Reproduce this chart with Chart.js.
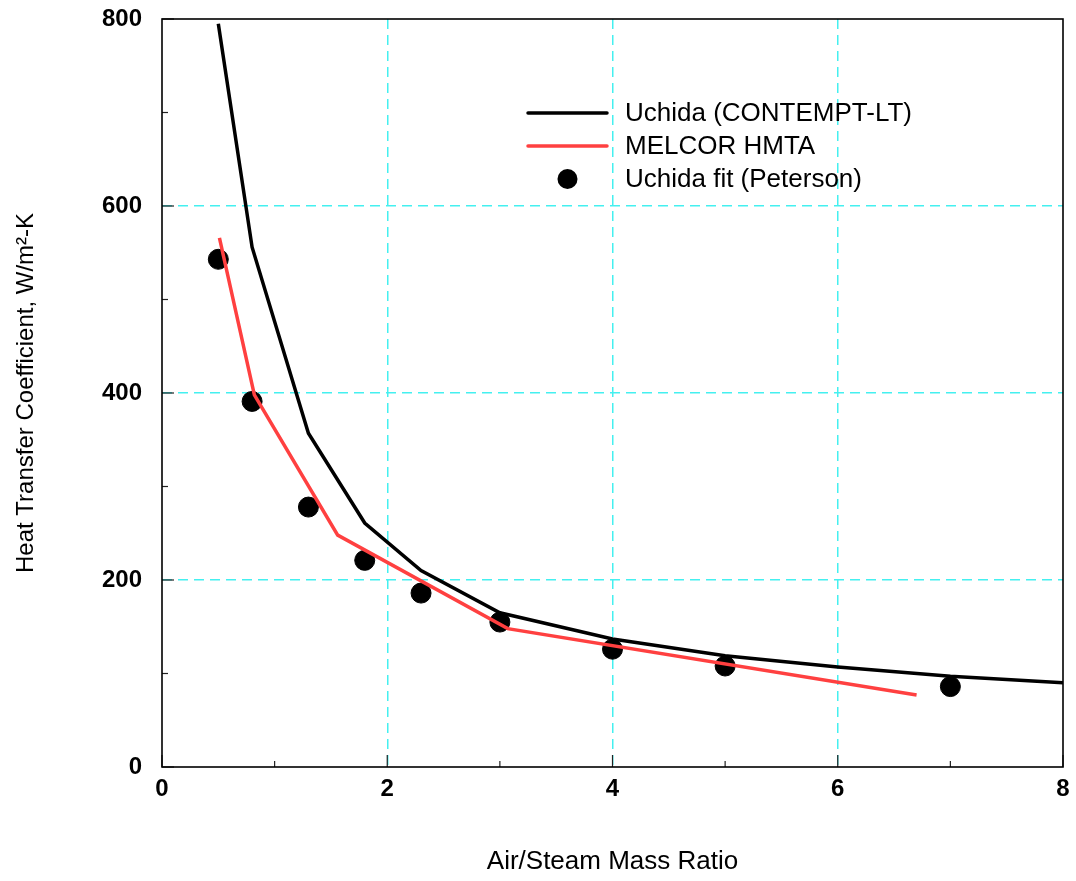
<!DOCTYPE html>
<html>
<head>
<meta charset="utf-8">
<script src="https://cdn.jsdelivr.net/npm/chart.js@4.4.0/dist/chart.umd.min.js"></script>
<style>
  html, body { margin: 0; padding: 0; background: #fff; }
  #wrap { width: 1076px; height: 881px; }
</style>
</head>
<body>
<div id="wrap"><canvas id="c" width="1076" height="881"></canvas></div>
<script>
// ---- data ----
const uchidaX = [0.5, 0.8, 1.3, 1.8, 2.3, 3, 4, 5, 6, 7, 8];
const uchidaY = [795, 556, 357, 261, 210, 165, 137, 119, 107, 97, 90];

const melcorX = [0.51, 0.82, 1.56, 3.07, 6.7];
const melcorY = [566, 398, 248, 148, 77];

const fitX = [0.5, 0.8, 1.3, 1.8, 2.3, 3, 4, 5, 7];
const fitY = [543, 391, 278, 221, 186, 155, 126, 108, 86];

const seriesNames = ['Uchida (CONTEMPT-LT)', 'MELCOR HMTA', 'Uchida fit (Peterson)'];

const xMinorTicks = [0, 1, 2, 3, 4, 5, 6, 7, 8];
const yMinorTicks = [0, 100, 200, 300, 400, 500, 600, 700, 800];

const toPoints = (xs, ys) => xs.map((x, i) => ({ x, y: ys[i] }));

const FONT = "'Liberation Sans', Arial, Helvetica, sans-serif";
const RED = '#ff4040';
const CYAN = '#44f0f0';

// frame + inward ticks + legend drawn on top
const decorPlugin = {
    id: 'decor',
    afterDatasetsDraw(chart) {
        const { ctx, chartArea: a, scales } = chart;
        const xs = scales.x, ys = scales.y;
        ctx.save();

        // inward tick marks on bottom and left axes
        ctx.strokeStyle = '#222';
        ctx.lineWidth = 1.2;
        xMinorTicks.forEach(v => {
            const px = xs.getPixelForValue(v);
            const len = (v % 2 === 0) ? 12 : 6;
            ctx.beginPath();
            ctx.moveTo(px, a.bottom);
            ctx.lineTo(px, a.bottom - len);
            ctx.stroke();
        });
        yMinorTicks.forEach(v => {
            const py = ys.getPixelForValue(v);
            const len = (v % 200 === 0) ? 12 : 6;
            ctx.beginPath();
            ctx.moveTo(a.left, py);
            ctx.lineTo(a.left + len, py);
            ctx.stroke();
        });

        // frame
        ctx.strokeStyle = '#000';
        ctx.lineWidth = 1.6;
        ctx.strokeRect(a.left, a.top, a.right - a.left, a.bottom - a.top);

        // legend
        const lx0 = 528, lx1 = 607, tx = 625;
        const rows = [113, 146, 179];
        ctx.lineWidth = 3.5;
        ctx.lineCap = 'round';
        ctx.strokeStyle = '#000';
        ctx.beginPath(); ctx.moveTo(lx0, rows[0]); ctx.lineTo(lx1, rows[0]); ctx.stroke();
        ctx.strokeStyle = RED;
        ctx.beginPath(); ctx.moveTo(lx0, rows[1]); ctx.lineTo(lx1, rows[1]); ctx.stroke();
        ctx.fillStyle = '#000';
        ctx.beginPath(); ctx.arc((lx0 + lx1) / 2, rows[2], 10, 0, Math.PI * 2); ctx.fill();

        ctx.font = '26px ' + FONT;
        ctx.textBaseline = 'middle';
        ctx.textAlign = 'left';
        seriesNames.forEach((name, i) => ctx.fillText(name, tx, rows[i] + 1));
        ctx.restore();
    }
};

const ctx = document.getElementById('c').getContext('2d');
new Chart(ctx, {
    type: 'scatter',
    data: {
        datasets: [
            {
                label: seriesNames[0],
                type: 'line',
                data: toPoints(uchidaX, uchidaY),
                borderColor: '#000',
                borderWidth: 3.5,
                pointRadius: 0,
                fill: false,
                tension: 0
            },
            {
                label: seriesNames[1],
                type: 'line',
                data: toPoints(melcorX, melcorY),
                borderColor: RED,
                borderWidth: 3.5,
                pointRadius: 0,
                fill: false,
                tension: 0
            },
            {
                label: seriesNames[2],
                data: toPoints(fitX, fitY),
                backgroundColor: '#000',
                borderColor: '#000',
                pointRadius: 10,
                pointHoverRadius: 10
            }
        ]
    },
    options: {
        responsive: false,
        animation: false,
        layout: { padding: { top: 19, right: 13, bottom: 0, left: 0 } },
        scales: {
            x: {
                type: 'linear',
                min: 0,
                max: 8,
                ticks: {
                    stepSize: 2,
                    color: '#000',
                    padding: 8,
                    font: { family: FONT, size: 24, weight: 'bold' }
                },
                grid: {
                    drawTicks: false,
                    lineWidth: 1.5,
                    color: (c) => (c.tick && (c.tick.value === 0 || c.tick.value === 8)) ? 'rgba(0,0,0,0)' : CYAN
                },
                border: { display: false, dash: [10, 6] },
                title: {
                    display: true,
                    text: 'Air/Steam Mass Ratio',
                    color: '#000',
                    font: { family: FONT, size: 26 },
                    padding: { top: 0, bottom: 4 }
                },
                afterFit(scale) {
                    scale.height = 114;
                    scale.paddingLeft = 0;
                    scale.paddingRight = 0;
                }
            },
            y: {
                type: 'linear',
                min: 0,
                max: 800,
                ticks: {
                    stepSize: 200,
                    color: '#000',
                    padding: 20,
                    font: { family: FONT, size: 24, weight: 'bold' }
                },
                grid: {
                    drawTicks: false,
                    lineWidth: 1.5,
                    color: (c) => (c.tick && (c.tick.value === 0 || c.tick.value === 800)) ? 'rgba(0,0,0,0)' : CYAN
                },
                border: { display: false, dash: [10, 6] },
                title: {
                    display: true,
                    text: 'Heat Transfer Coefficient, W/m\u00B2-K',
                    color: '#000',
                    font: { family: FONT, size: 24 },
                    padding: { top: 12, bottom: 0 }
                },
                afterFit(scale) {
                    scale.width = 162;
                    scale.paddingTop = 0;
                    scale.paddingBottom = 0;
                }
            }
        },
        plugins: {
            legend: { display: false },
            tooltip: { enabled: false }
        }
    },
    plugins: [decorPlugin]
});
</script>
</body>
</html>
